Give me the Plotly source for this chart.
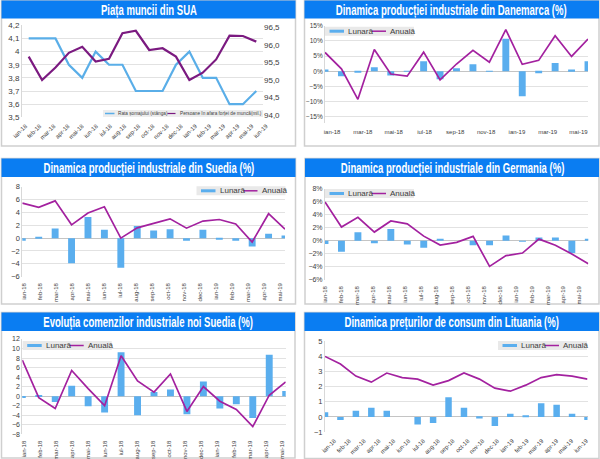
import plotly.graph_objects as go

W, H = 600, 459

# etichete lunare
luni = ["ian-18", "feb-18", "mar-18", "apr-18", "mai-18", "iun-18", "iul-18", "aug-18", "sep-18",
        "oct-18", "nov-18", "dec-18", "ian-19", "feb-19", "mar-19", "apr-19", "mai-19", "iun-19"]
luni17 = luni[:17]

# Piata muncii SUA
rata_somaj = [4.1, 4.1, 4.1, 3.9, 3.8, 4.0, 3.9, 3.9, 3.7, 3.7, 3.7, 3.9, 4.0, 3.8, 3.8, 3.6, 3.6, 3.7]
afara_forta = [95.67, 95.0, 95.36, 95.78, 95.95, 95.53, 95.61, 96.34, 96.41,
               95.86, 95.91, 95.67, 95.0, 95.21, 95.59, 96.27, 96.26, 96.1]

# Danemarca
dk_lunar = [0.6, -1.6, -0.5, 1.3, -1.4, 0.1, 3.3, -2.6, 1.0, 2.3, 0.2, 10.7, -8.2, -0.6, 2.7, 0.6, 3.3]
dk_anual = [6.2, 0.8, -9.2, 7.2, -0.9, -1.6, 6.3, -2.8, 2.4, 6.9, 3.0, 13.7, 2.3, 3.6, 11.7, 4.9, 10.6]

# Suedia
se_lunar = [-0.4, 0.1, 1.5, -3.9, 3.3, 1.3, -4.6, 1.9, 1.2, 1.4, -0.4, 1.3, -0.1, -0.4, -1.3, 0.7, 0.4]
se_anual = [5.45, 4.8, 5.8, 2.07, 3.9, 4.87, 0.0, 1.6, 2.3, 3.0, 1.55, 2.65, 2.9, 2.2, -0.6, 3.8, 1.4]

# Germania
de_lunar = [-0.5, -1.7, 1.3, -0.4, 1.8, -0.6, -1.1, 0.3, 0.0, -0.7, -0.7, 0.8, -0.1, 0.5, 0.5, -1.9, 0.3]
de_anual = [5.95, 2.1, 3.6, 1.33, 3.03, 2.6, 0.7, -0.67, -0.25, 0.67, -3.95, -2.3, -1.9, 0.25, -0.7, -2.05, -3.55]

# Comenzi Suedia
cmd_lunar = [-0.4, 0.2, -1.2, 2.2, -2.1, -3.4, 9.2, -4.0, 0.9, 1.4, -3.8, 3.1, -2.6, -1.7, -4.6, 8.7, 1.1]
cmd_anual = [7.6, -0.3, -2.6, 5.4, 1.6, -2.0, 8.5, 3.2, 0.85, 4.65, -3.2, 2.0, -1.05, -2.8, -6.4, 0.2, 3.0]

# Lituania
lt_lunar = [0.3, -0.2, 0.4, 0.6, 0.4, 0.0, -0.5, -0.4, 1.3, 0.6, -0.1, -0.6, 0.2, 0.1, 0.9, 0.8, 0.2, -0.2]
lt_anual = [4.0, 3.5, 2.7, 2.3, 2.9, 2.6, 2.5, 2.1, 2.4, 2.9, 2.5, 1.9, 1.7, 2.1, 2.6, 2.8, 2.7, 2.5]

ALBASTRU = "#5AAEEE"
MOV = "#A3219F"
BANDA = "#0A7DF2"
GRID = "#E2E2E2"
TEXT = "#3C3C3C"
FONT = "Liberation Sans"
TITLU_SIZE = 14.5  # marimea titlurilor, folosita si in post_script ca sa le ingustam


def fx(x):
    return x / W


def fy(y):
    return 1 - y / H


fig = go.Figure()
shapes = []
annots = []
layout = {}


def panou(x0, x1, y0, y1, band, titlu):
    # chenar gri + banda de titlu
    shapes.append(dict(type="rect", xref="paper", yref="paper", x0=fx(x0), x1=fx(x1), y0=fy(y0), y1=fy(y1),
                       line=dict(color="#CFCFCF", width=1.5), fillcolor="white", layer="below"))
    shapes.append(dict(type="rect", xref="paper", yref="paper", x0=fx(x0), x1=fx(x1), y0=fy(y0), y1=fy(band),
                       line=dict(width=0), fillcolor=BANDA, layer="below"))
    annots.append(dict(xref="paper", yref="paper", x=fx((x0 + x1) / 2), y=fy((y0 + band) / 2), text=titlu,
                       showarrow=False, font=dict(family=FONT, size=TITLU_SIZE, color="white"),
                       xanchor="center", yanchor="middle"))


def legenda(x0, y0):
    # legenda Lunara / Anuala, cu cheie lata ca in original
    y1 = y0 + 9
    ym = (y0 + y1) / 2
    shapes.append(dict(type="rect", xref="paper", yref="paper", x0=fx(x0), x1=fx(x0 + 89), y0=fy(y0), y1=fy(y1),
                       line=dict(width=0), fillcolor="#E9E9E9"))
    shapes.append(dict(type="line", xref="paper", yref="paper", x0=fx(x0 + 4.5), x1=fx(x0 + 19), y0=fy(ym), y1=fy(ym),
                       line=dict(color=ALBASTRU, width=3)))
    shapes.append(dict(type="line", xref="paper", yref="paper", x0=fx(x0 + 47), x1=fx(x0 + 61), y0=fy(ym), y1=fy(ym),
                       line=dict(color=MOV, width=1.5)))
    for dx, t in ((21, "Lunară"), (63, "Anuală")):
        annots.append(dict(xref="paper", yref="paper", x=fx(x0 + dx), y=fy(ym), text=t, showarrow=False,
                           font=dict(family=FONT, size=8, color=TEXT), xanchor="left", yanchor="middle"))


def grafic(i, etichete, lunar, anual, box, yr, dtick, suffix, ytick_size, tick_start, tick_step, pas, angle, tlen):
    x0, x1, y0, y1 = box
    xs = list(range(len(etichete)))
    xa, ya = f"x{i}", f"y{i}"
    fig.add_trace(go.Bar(x=xs, y=lunar, xaxis=xa, yaxis=ya, name="Lunară", marker_color=ALBASTRU,
                         marker_line_width=0, width=0.42, showlegend=False))
    fig.add_trace(go.Scatter(x=xs, y=anual, xaxis=xa, yaxis=ya, name="Anuală", mode="lines",
                             line=dict(color=MOV, width=1.7), showlegend=False))
    ticktext = etichete[::pas]
    tickvals = [tick_start + tick_step * k for k in range(len(ticktext))]
    layout[f"xaxis{i}"] = dict(domain=[fx(x0), fx(x1)], anchor=ya, range=[0, len(etichete) - 1],
                               tickmode="array", tickvals=tickvals, ticktext=ticktext, tickangle=angle,
                               tickfont=dict(family=FONT, size=6, color=TEXT), showgrid=False, zeroline=False,
                               ticks="outside", ticklen=tlen, tickcolor="rgba(0,0,0,0)", showline=False,
                               automargin=False)
    layout[f"yaxis{i}"] = dict(domain=[fy(y1), fy(y0)], anchor=xa, range=yr, tick0=0, dtick=dtick,
                               ticksuffix=suffix, tickfont=dict(family=FONT, size=ytick_size, color=TEXT),
                               gridcolor=GRID, gridwidth=1, zeroline=True, zerolinecolor="#C4C4C4", zerolinewidth=1,
                               showline=True, linecolor="#D8D8D8", linewidth=1, automargin=False)


# 1. Piata muncii din SUA
panou(1.5, 295.5, 0.5, 146, 18.5, "<b>Piața muncii din SUA</b>")
xs_sua = list(range(len(luni)))
fig.add_trace(go.Scatter(x=xs_sua, y=rata_somaj, xaxis="x1", yaxis="y1", mode="lines", name="Rata șomajului (stânga)",
                         line=dict(color="#5AAEE8", width=2.2), showlegend=False))
fig.add_trace(go.Scatter(x=xs_sua, y=afara_forta, xaxis="x1", yaxis="y7", mode="lines",
                         name="Persoane în afara forței de muncă(mil.)",
                         line=dict(color="#7B1A80", width=2.2), showlegend=False))
layout["xaxis1"] = dict(domain=[fx(22), fx(263)], anchor="y1", range=[-0.5, 17.5], tickmode="array",
                        tickvals=[-0.47 + 1.057 * k for k in range(18)], ticktext=luni, tickangle=-45,
                        tickfont=dict(family=FONT, size=6, color=TEXT), showgrid=False, zeroline=False,
                        ticks="outside", ticklen=2, tickcolor="rgba(0,0,0,0)", ticklabelshift=3, automargin=False)
layout["yaxis1"] = dict(domain=[fy(117.3), fy(25.3)], anchor="x1", range=[3.5, 4.2], dtick=0.1, tick0=3.5,
                        tickfont=dict(family=FONT, size=8, color=TEXT), gridcolor=GRID, zeroline=False,
                        showline=True, linecolor="#D8D8D8", automargin=False)
layout["yaxis7"] = dict(domain=[fy(117.3), fy(25.3)], anchor="x1", overlaying="y1", side="right",
                        range=[93.933, 96.567], tick0=94, dtick=0.5, tickformat=".1f", showgrid=False, zeroline=False,
                        tickfont=dict(family=FONT, size=8, color=TEXT), automargin=False)
# legenda mica din primul grafic
shapes.append(dict(type="rect", xref="paper", yref="paper", x0=fx(103), x1=fx(263), y0=fy(110), y1=fy(117),
                   line=dict(width=0), fillcolor="#EDEDED"))
shapes.append(dict(type="line", xref="paper", yref="paper", x0=fx(105), x1=fx(114.5), y0=fy(113.5), y1=fy(113.5),
                   line=dict(color="#5AAEE8", width=1.5)))
shapes.append(dict(type="line", xref="paper", yref="paper", x0=fx(167.5), x1=fx(175.5), y0=fy(113.5), y1=fy(113.5),
                   line=dict(color="#7B1A80", width=1.2)))
annots.append(dict(xref="paper", yref="paper", x=fx(116), y=fy(113.5), text="Rata șomajului (stânga)", showarrow=False,
                   font=dict(family=FONT, size=4.7, color=TEXT), xanchor="left", yanchor="middle"))
annots.append(dict(xref="paper", yref="paper", x=fx(177.5), y=fy(113.5), text="Persoane în afara forței de muncă(mil.)",
                   showarrow=False, font=dict(family=FONT, size=4.7, color=TEXT), xanchor="left", yanchor="middle"))

# 2. Danemarca
panou(304.5, 599, 0.5, 146, 18.5, "<b>Dinamica producției industriale din Danemarca (%)</b>")
grafic(2, luni17, dk_lunar, dk_anual, (325, 588, 25.7, 123), [-17, 15], 5, "%", 6.5, 0.43, 1.874, 2, 0, 3)
legenda(325, 26.7)

# 3. Suedia
panou(1.5, 295.5, 158.5, 304, 177, "<b>Dinamica producției industriale din Suedia (%)</b>")
grafic(3, luni17, se_lunar, se_anual, (22.3, 285, 186.7, 276.7), [-6, 8], 2, "", 7.5, 0.1, 0.975, 1, -90, 3)
legenda(196.5, 186.3)

# 4. Germania
panou(305, 599, 158.5, 304, 177, "<b>Dinamica producției industriale din Germania (%)</b>")
grafic(4, luni17, de_lunar, de_anual, (325, 588.3, 188.7, 279.7), [-6, 8], 2, "%", 7, 0.02, 0.965, 1, -90, 3)
legenda(325, 189)

# 5. Comenzi Suedia
panou(1.5, 295, 312.5, 458, 331, "<b>Evoluția comenzilor industriale noi Suedia (%)</b>")
grafic(5, luni17, cmd_lunar, cmd_anual, (22.3, 285.7, 339, 434.3), [-8, 12], 2, "", 7, 0.1, 0.98, 1, -90, 3)
legenda(22.7, 341)

# 6. Lituania
panou(304.5, 599, 312.5, 458.5, 331, "<b>Dinamica prețurilor de consum din Lituania (%)</b>")
grafic(6, luni, lt_lunar, lt_anual, (325, 587.5, 341.3, 432), [-1, 5], 1, "", 7.5, 0.6, 0.96, 1, -45, 2)
legenda(498, 341)

fig.update_layout(width=W, height=H, margin=dict(l=0, r=0, t=0, b=0), paper_bgcolor="white", plot_bgcolor="rgba(0,0,0,0)",
                  separators=",.", barmode="overlay", showlegend=False, shapes=shapes, annotations=annots,
                  font=dict(family=FONT), **layout)

# nu exista font ingust instalat: titlurile se strang pe orizontala, raman text
post = """
document.body.style.margin='0';document.body.style.overflow='hidden';
document.querySelectorAll('.annotation-text').forEach(function(t){
  if (parseFloat(t.style.fontSize) > 12) {
    t.style.transformBox='fill-box';t.style.transformOrigin='center';t.style.transform='scaleX(0.66)';
  }
});
"""
fig.write_html("out.html", config=dict(displayModeBar=False), post_script=post)
